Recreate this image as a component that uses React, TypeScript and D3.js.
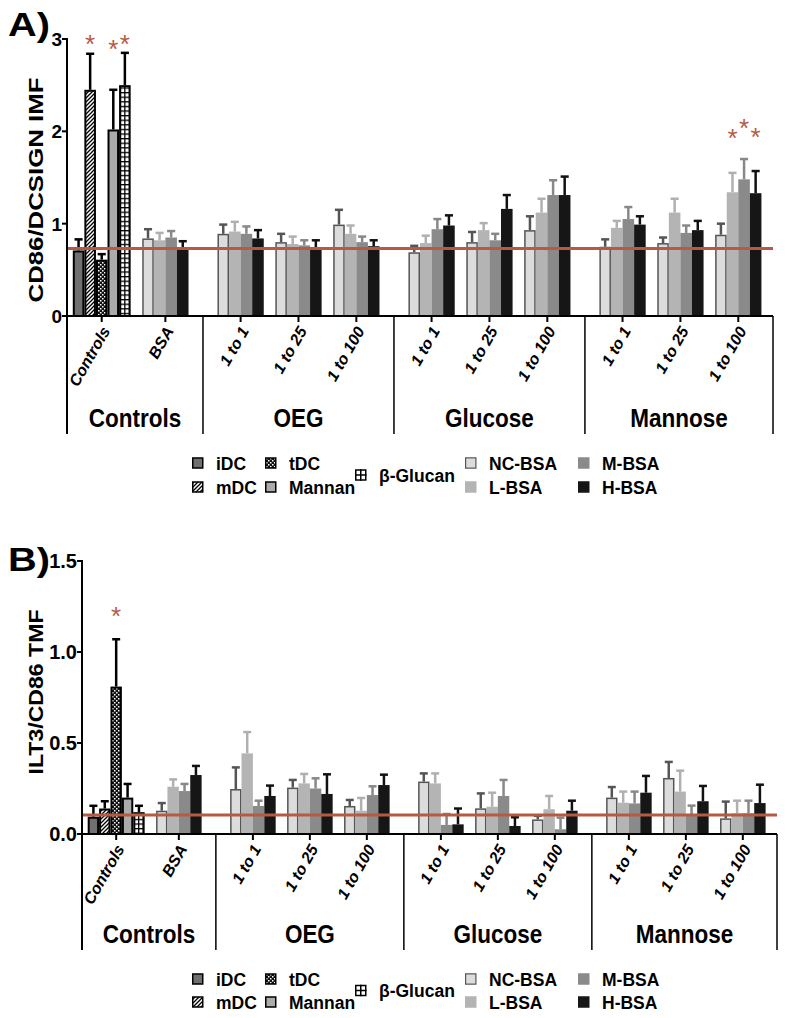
import React from 'react';
import * as d3 from 'd3';

// categories along the x axis and the group each belongs to
const categories = ['Controls', 'BSA', '1 to 1', '1 to 25', '1 to 100', '1 to 1', '1 to 25', '1 to 100', '1 to 1', '1 to 25', '1 to 100'];
const categoryGroup = [0, 0, 1, 1, 1, 2, 2, 2, 3, 3, 3];
const groupNames = ['Controls', 'OEG', 'Glucose', 'Mannose'];
const controlNames = ['iDC', 'mDC', 'tDC', 'Mannan', 'β-Glucan'];
const bsaNames = ['NC-BSA', 'L-BSA', 'M-BSA', 'H-BSA'];

// panel A: CD86/DCSIGN IMF
const ctrlA = [0.71, 2.45, 0.61, 2.02, 2.5];
const ctrlSemA = [0.12, 0.39, 0.06, 0.43, 0.35];
// BSA series, one value per category from BSA to Mannose 1 to 100
const ncA = [0.84, 0.89, 0.8, 0.99, 0.69, 0.8, 0.93, 0.75, 0.79, 0.88];
const ncSemA = [0.1, 0.1, 0.09, 0.16, 0.07, 0.11, 0.15, 0.08, 0.06, 0.12];
const lA = [0.82, 0.915, 0.78, 0.89, 0.79, 0.93, 1.12, 0.955, 1.12, 1.34];
const lSemA = [0.08, 0.105, 0.08, 0.09, 0.08, 0.076, 0.15, 0.075, 0.15, 0.21];
const mA = [0.85, 0.89, 0.765, 0.8, 0.94, 0.82, 1.31, 1.05, 0.9, 1.48];
const mSemA = [0.07, 0.08, 0.055, 0.06, 0.11, 0.07, 0.16, 0.13, 0.08, 0.22];
const hA = [0.745, 0.84, 0.746, 0.756, 0.98, 1.16, 1.31, 0.99, 0.93, 1.33];
const hSemA = [0.065, 0.09, 0.074, 0.064, 0.11, 0.15, 0.2, 0.09, 0.1, 0.24];
const refA = 0.73;
// [category, series, height of the asterisk]
const starsA = [[0, 1, 3.01], [0, 3, 2.96], [0, 4, 3.01], [10, 1, 1.99], [10, 2, 2.1], [10, 3, 2.0]];
const ticksA = [0, 1, 2, 3];

// panel B: ILT3/CD86 TMF
const ctrlB = [0.095, 0.14, 0.81, 0.2, 0.12];
const ctrlSemB = [0.06, 0.04, 0.26, 0.075, 0.035];
const ncB = [0.128, 0.247, 0.255, 0.154, 0.288, 0.141, 0.08, 0.2, 0.308, 0.086];
const ncSemB = [0.042, 0.119, 0.042, 0.033, 0.045, 0.082, 0.02, 0.058, 0.088, 0.092];
const lB = [0.26, 0.443, 0.278, 0.128, 0.278, 0.15, 0.136, 0.172, 0.233, 0.114];
const lSemB = [0.04, 0.117, 0.052, 0.07, 0.055, 0.077, 0.073, 0.061, 0.115, 0.069];
const mB = [0.236, 0.154, 0.25, 0.214, 0.05, 0.209, 0.026, 0.168, 0.11, 0.114];
const mSemB = [0.039, 0.029, 0.056, 0.048, 0.06, 0.088, 0.064, 0.065, 0.046, 0.069];
const hB = [0.324, 0.209, 0.22, 0.269, 0.053, 0.044, 0.128, 0.227, 0.18, 0.17];
const hSemB = [0.05, 0.057, 0.108, 0.057, 0.087, 0.048, 0.055, 0.092, 0.084, 0.101];
const refB = 0.105;
const starsB = [[0, 2, 1.23]];
const ticksB = [0, 0.5, 1, 1.5];

const FONT = '"Liberation Sans", Arial, sans-serif';
const RED = '#b65a44';

const ctrlStyle = [
  { fill: '#707070', stroke: '#000', whisker: '#000' },
  { fill: 'url(#hatch)', stroke: '#000', whisker: '#000' },
  { fill: 'url(#checker)', stroke: '#000', whisker: '#000' },
  { fill: '#ababab', stroke: '#000', whisker: '#000' },
  { fill: 'url(#grid)', stroke: '#000', whisker: '#000' },
];
const bsaStyle = [
  { fill: '#dcdcdc', stroke: '#555', whisker: '#555' },
  { fill: '#b4b4b4', stroke: null, whisker: '#b0b0b0' },
  { fill: '#8a8a8a', stroke: null, whisker: '#888' },
  { fill: '#161616', stroke: null, whisker: '#111' },
];

// bar-width units: half a bar of padding, one bar between categories, 2.5 between groups
const starts: number[] = [];
let cursor = 0.5;
categories.forEach((c, i) => {
  if (i > 0) cursor += categoryGroup[i] !== categoryGroup[i - 1] ? 2.5 : 1;
  starts.push(cursor);
  cursor += i === 0 ? controlNames.length : bsaNames.length;
});
const totalUnits = cursor + 1;

const Panel = ({ p }: any) => {
  const x = d3.scaleLinear().domain([0, totalUnits]).range([p.x0, p.x1]);
  const y = d3.scaleLinear().domain([0, p.ticks[p.ticks.length - 1]]).range([p.yZero, p.yTop]);
  const bw = x(1) - x(0);
  const bsa = [p.nc, p.l, p.m, p.h];
  const bsaSem = [p.ncSem, p.lSem, p.mSem, p.hSem];
  const bars = categories.flatMap((c, ci) =>
    ci === 0
      ? p.ctrl.map((v: number, si: number) => ({ ci, si, v, e: p.ctrlSem[si], st: ctrlStyle[si] }))
      : bsa.map((vals: number[], si: number) => ({ ci, si, v: vals[ci - 1], e: bsaSem[si][ci - 1], st: bsaStyle[si] })));

  // separators: axis ends and midpoints of the gaps between groups
  const seps = [0];
  categories.forEach((c, i) => {
    if (i > 0 && categoryGroup[i] !== categoryGroup[i - 1]) seps.push(starts[i] - 1.25);
  });
  seps.push(totalUnits);
  const groupCenters = groupNames.map((g, gi) => (x(seps[gi]) + x(seps[gi + 1])) / 2);
  const fmt = p.fmt;

  return (
    <g>
      <text x={8} y={p.titleY} fontFamily={FONT} fontWeight="bold" fontSize={34} textLength={42} lengthAdjust="spacingAndGlyphs">{p.title}</text>
      <text transform={`translate(43,${p.labelY}) rotate(-90)`} textAnchor="middle" fontFamily={FONT} fontWeight="bold" fontSize={20}
        textLength={p.labelLen} lengthAdjust="spacingAndGlyphs">{p.label}</text>
      {/* whiskers */}
      {bars.map((b: any, i: number) => {
        const cx = x(starts[b.ci] + b.si + 0.5);
        return (
          <g key={'w' + i} stroke={b.st.whisker} strokeWidth={2.5}>
            <line x1={cx} x2={cx} y1={y(b.v)} y2={y(b.v + b.e)} />
            <line x1={cx - bw * 0.35} x2={cx + bw * 0.35} y1={y(b.v + b.e)} y2={y(b.v + b.e)} />
          </g>
        );
      })}
      {/* bars */}
      {bars.map((b: any, i: number) => {
        const x0 = x(starts[b.ci] + b.si);
        const sw = b.ci === 0 ? 2 : 1.5;
        return b.st.stroke ? (
          <rect key={'b' + i} x={x0 + sw / 2} y={y(b.v) + sw / 2} width={bw - sw} height={Math.max(0, y(0) - y(b.v) - sw / 2)}
            fill={b.st.fill} stroke={b.st.stroke} strokeWidth={sw} />
        ) : (
          <rect key={'b' + i} x={x0} y={y(b.v)} width={bw} height={y(0) - y(b.v)} fill={b.st.fill} />
        );
      })}
      {/* reference line */}
      <line x1={p.x0} x2={p.x1} y1={y(p.ref)} y2={y(p.ref)} stroke={RED} strokeWidth={3} />
      {/* asterisks */}
      {p.stars.map((s: number[], i: number) => (
        <text key={'s' + i} x={x(starts[s[0]] + s[1] + 0.5)} y={y(s[2]) + 15} textAnchor="middle" fill={RED}
          fontFamily={FONT} fontSize={26}>*</text>
      ))}
      {/* y axis */}
      <line x1={p.x0} x2={p.x0} y1={y(p.ticks[p.ticks.length - 1]) - 1} y2={p.sepBottom} stroke="#000" strokeWidth={2} />
      {p.ticks.map((t: number) => (
        <g key={'t' + t}>
          <line x1={p.x0 - 5} x2={p.x0} y1={y(t)} y2={y(t)} stroke="#000" strokeWidth={2} />
          <text x={p.x0 - 5} y={y(t) + p.tickFont * 0.36} textAnchor="end" fontFamily={FONT} fontWeight="bold" fontSize={p.tickFont}>{fmt(t)}</text>
        </g>
      ))}
      {/* x axis */}
      <line x1={p.x0 - 1} x2={p.x1} y1={y(0)} y2={y(0)} stroke="#000" strokeWidth={2} />
      {categories.map((c, ci) => {
        const cx = x(starts[ci] + (ci === 0 ? controlNames.length : bsaNames.length) / 2);
        return (
          <g key={'c' + ci}>
            <line x1={cx} x2={cx} y1={y(0)} y2={y(0) + 6} stroke="#000" strokeWidth={2} />
            <text transform={`translate(${cx + 4},${y(0) + 12}) rotate(-60)`} textAnchor="end" dy="0.35em"
              fontFamily={FONT} fontWeight="bold" fontStyle="italic" fontSize={16}>{c}</text>
          </g>
        );
      })}
      {seps.slice(1).map((s, i) => (
        <line key={'sep' + i} x1={x(s)} x2={x(s)} y1={y(0)} y2={p.sepBottom} stroke="#000" strokeWidth={1.5} />
      ))}
      {groupNames.map((g, gi) => (
        <text key={'g' + gi} transform={`translate(${groupCenters[gi]},${p.groupY}) scale(0.9,1)`} textAnchor="middle"
          fontFamily={FONT} fontWeight="bold" fontSize={25}>{g}</text>
      ))}
    </g>
  );
};

const legendCols = [192, 265, 355, 465, 578];
const legendPos = [[0, 0], [0, 1], [1, 0], [1, 1], [2, 0.5]];
const legendBsaPos = [[3, 0], [3, 1], [4, 0], [4, 1]];

const Legend = ({ y1, y2 }: { y1: number; y2: number }) => {
  const rowY = (r: number) => y1 + (y2 - y1) * r;
  const items = [
    ...controlNames.map((n, i) => ({ n, st: ctrlStyle[i], pos: legendPos[i], glucan: i === 4, sw: 1.5 })),
    ...bsaNames.map((n, i) => ({ n, st: bsaStyle[i], pos: legendBsaPos[i], glucan: false, sw: 1.2 })),
  ];
  return (
    <g>
      {items.map((it, i) => {
        const lx = legendCols[it.pos[0]];
        const cy = rowY(it.pos[1]);
        const s = 11.5;
        return (
          <g key={i}>
            {it.glucan ? (
              <g>
                <rect x={lx + 0.75} y={cy - s / 2 + 0.75} width={s - 1.5} height={s - 1.5} fill="#fff" stroke="#000" strokeWidth={1.5} />
                <line x1={lx + s / 2} x2={lx + s / 2} y1={cy - s / 2} y2={cy + s / 2} stroke="#000" strokeWidth={1.5} />
                <line x1={lx} x2={lx + s} y1={cy} y2={cy} stroke="#000" strokeWidth={1.5} />
              </g>
            ) : it.st.stroke ? (
              <rect x={lx + it.sw / 2} y={cy - s / 2 + it.sw / 2} width={s - it.sw} height={s - it.sw} fill={it.st.fill}
                stroke={it.st.stroke} strokeWidth={it.sw} />
            ) : (
              <rect x={lx} y={cy - s / 2} width={s} height={s} fill={it.st.fill} />
            )}
            <text x={lx + 24} y={cy + 6.5} fontFamily={FONT} fontWeight="bold" fontSize={17.5}>{it.n}</text>
          </g>
        );
      })}
    </g>
  );
};

const panelA = {
  title: 'A)', titleY: 36, label: 'CD86/DCSIGN IMF', labelY: 190, labelLen: 225,
  x0: 67, x1: 773, yZero: 316, yTop: 39, ticks: ticksA, fmt: d3.format('d'), tickFont: 19,
  ctrl: ctrlA, ctrlSem: ctrlSemA, nc: ncA, ncSem: ncSemA, l: lA, lSem: lSemA, m: mA, mSem: mSemA, h: hA, hSem: hSemA,
  ref: refA, stars: starsA, sepBottom: 434, groupY: 427,
};
const panelB = {
  title: 'B)', titleY: 571, label: 'ILT3/CD86 TMF', labelY: 692, labelLen: 165,
  x0: 82, x1: 777, yZero: 834, yTop: 561, ticks: ticksB, fmt: d3.format('.1f'), tickFont: 20,
  ctrl: ctrlB, ctrlSem: ctrlSemB, nc: ncB, ncSem: ncSemB, l: lB, lSem: lSemB, m: mB, mSem: mSemB, h: hB, hSem: hSemB,
  ref: refB, stars: starsB, sepBottom: 950, groupY: 943,
};

export default function App() {
  return (
    <svg width={789} height={1018} style={{ position: 'absolute', left: 0, top: 0, background: '#fff' }}>
      <defs>
        <pattern id="hatch" width={4} height={4} patternUnits="userSpaceOnUse">
          <rect width={4} height={4} fill="#fff" />
          <path d="M-1,1 l2,-2 M0,4 l4,-4 M3,5 l2,-2" stroke="#000" strokeWidth={1.3} />
        </pattern>
        <pattern id="checker" width={4} height={4} patternUnits="userSpaceOnUse">
          <rect width={4} height={4} fill="#111" />
          <rect x={0} y={0} width={1.5} height={1.5} fill="#fff" />
          <rect x={2} y={2} width={1.5} height={1.5} fill="#fff" />
        </pattern>
        <pattern id="grid" width={4.6} height={4.6} patternUnits="userSpaceOnUse">
          <rect width={4.6} height={4.6} fill="#000" />
          <rect x={1.3} y={1.3} width={3.3} height={3.3} fill="#fff" />
        </pattern>
      </defs>
      <Panel p={panelA} />
      <Legend y1={463} y2={487} />
      <Panel p={panelB} />
      <Legend y1={979} y2={1002} />
    </svg>
  );
}
